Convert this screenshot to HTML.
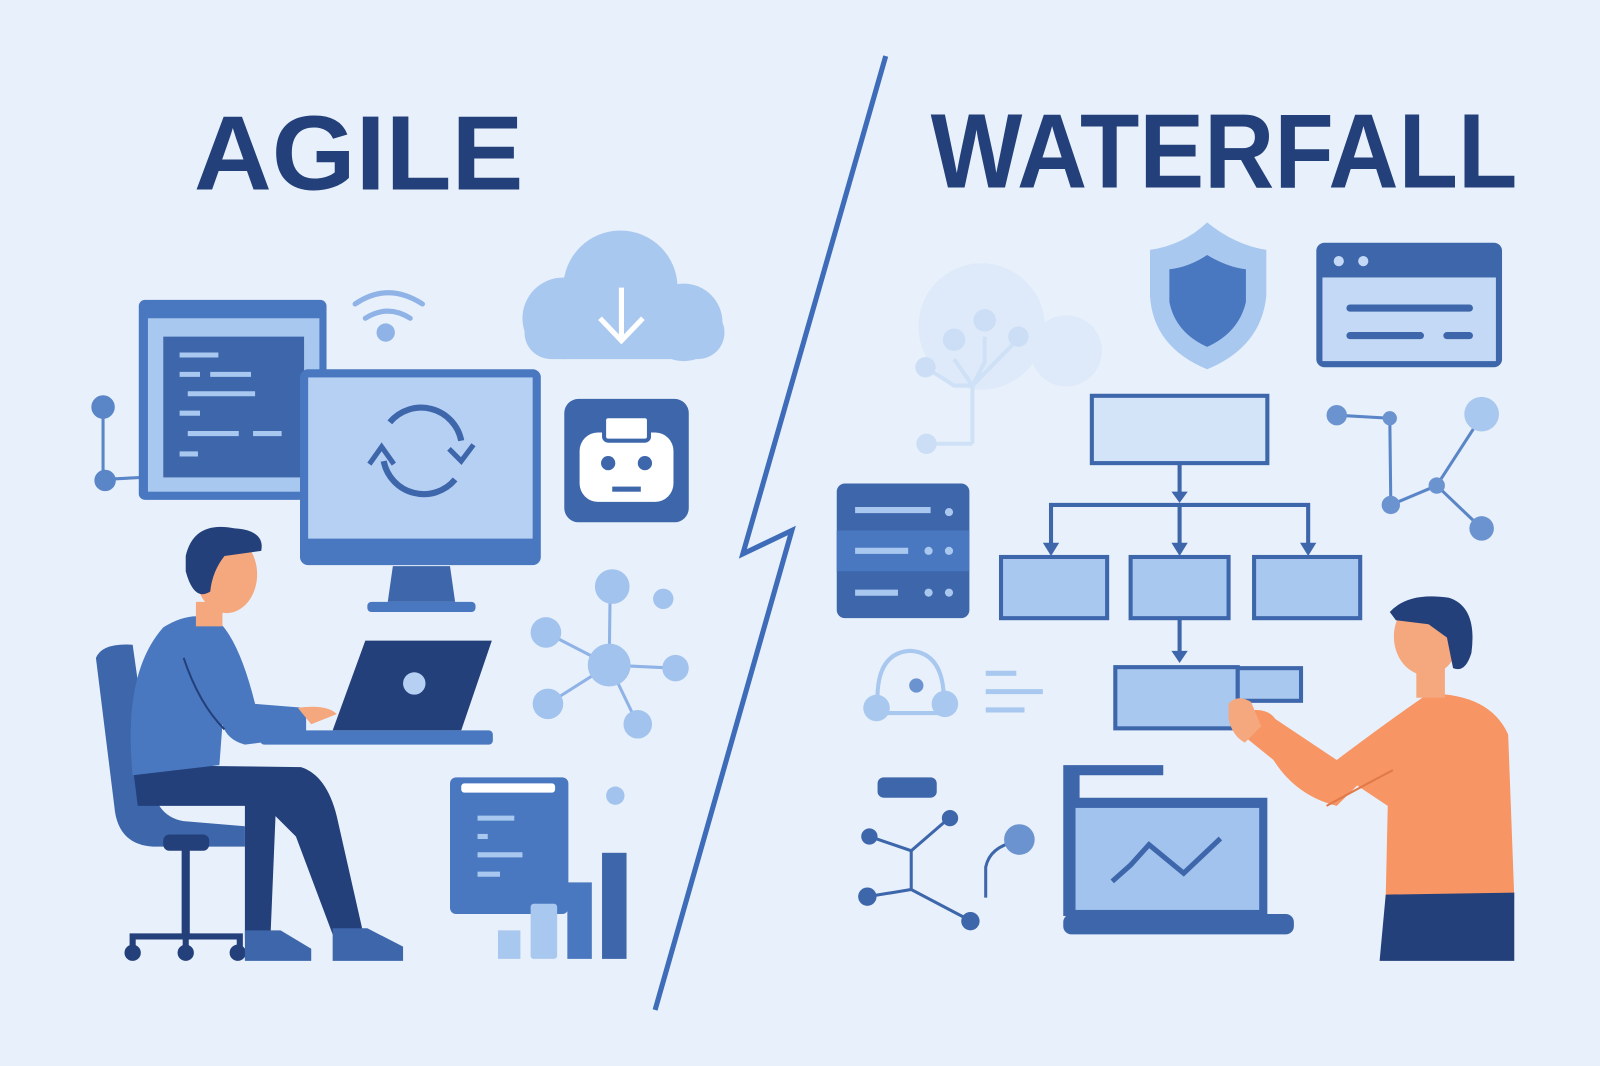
<!DOCTYPE html>
<html><head><meta charset="utf-8"><style>
html,body{margin:0;padding:0;background:#e8f1fb;}
svg{display:block}
</style></head><body>
<svg width="1600" height="1066" viewBox="0 0 1568 1045" preserveAspectRatio="none" xmlns="http://www.w3.org/2000/svg">
<rect width="1568" height="1045" fill="#e8f1fb"/>
<text x="190" y="186" textLength="323" lengthAdjust="spacingAndGlyphs" font-family="Liberation Sans, sans-serif" font-weight="bold" font-size="104" fill="#23407a">AGILE</text>
<text x="912" y="184" textLength="575" lengthAdjust="spacingAndGlyphs" font-family="Liberation Sans, sans-serif" font-weight="bold" font-size="104" fill="#23407a">WATERFALL</text>
<!-- divider -->
<polyline points="868,55 728,543 776,520 642,990" fill="none" stroke="#3e6cb8" stroke-width="5"/>

<!-- LEFT -->
<g stroke="#5a86c8" stroke-width="3" fill="#5a86c8"><line x1="101" y1="400" x2="101" y2="470"/><line x1="101" y1="470" x2="140" y2="468"/><circle cx="101" cy="399" r="10"/><circle cx="103" cy="471" r="9"/></g>
<rect x="136" y="294" width="184" height="196" rx="6" fill="#4a78c0"/>
<rect x="145" y="312" width="168" height="170" fill="#a9c8ef"/>
<rect x="160" y="330" width="138" height="138" fill="#3d66ab"/>
<g stroke="#a9c8ef" stroke-width="5"><line x1="176" y1="348" x2="214" y2="348"/><line x1="176" y1="367" x2="196" y2="367"/><line x1="206" y1="367" x2="246" y2="367"/><line x1="184" y1="386" x2="250" y2="386"/><line x1="176" y1="405" x2="196" y2="405"/><line x1="184" y1="425" x2="234" y2="425"/><line x1="248" y1="425" x2="276" y2="425"/><line x1="176" y1="445" x2="194" y2="445"/></g>
<g fill="none" stroke="#8fb3e6" stroke-width="5" stroke-linecap="round"><path d="M348 298 Q380 276 414 298"/><path d="M358 312 Q380 298 402 312"/></g>
<circle cx="378" cy="326" r="9" fill="#8fb3e6"/>
<rect x="294" y="362" width="236" height="192" rx="8" fill="#4a78c0"/>
<rect x="302" y="370" width="220" height="158" fill="#b5d0f3"/>
<polygon points="385,555 441,555 446,590 380,590" fill="#3d66ab"/>
<rect x="360" y="590" width="106" height="10" rx="4" fill="#4a78c0"/>
<g fill="none" stroke="#3d66ab" stroke-width="6"><path d="M376 452 A40 40 0 0 0 446 470"/><path d="M452 432 A40 40 0 0 0 382 414"/></g>
<g fill="none" stroke="#3d66ab" stroke-width="5"><polyline points="362,455 374,438 386,455"/><polyline points="440,440 452,452 464,436"/></g>
<g fill="#a9c8ef"><circle cx="608" cy="282" r="56"/><circle cx="552" cy="312" r="40"/><circle cx="670" cy="316" r="38"/><rect x="514" y="300" width="196" height="52" rx="26"/></g>
<g stroke="#fff" stroke-width="5" fill="none"><line x1="609" y1="282" x2="609" y2="332"/><polyline points="588,312 609,334 630,312"/></g>
<rect x="553" y="391" width="122" height="121" rx="14" fill="#3d66ab"/>
<rect x="568" y="424" width="92" height="68" rx="18" fill="#fff"/>
<rect x="592" y="408" width="44" height="24" rx="4" fill="#fff" stroke="#3d66ab" stroke-width="4"/>
<circle cx="596" cy="454" r="7" fill="#3d66ab"/><circle cx="632" cy="454" r="7" fill="#3d66ab"/>
<rect x="600" y="477" width="28" height="5" fill="#3d66ab"/>
<g stroke="#8fb3e6" stroke-width="3"><line x1="597" y1="652" x2="535" y2="620"/><line x1="597" y1="652" x2="598" y2="575"/><line x1="597" y1="652" x2="662" y2="655"/><line x1="597" y1="652" x2="537" y2="690"/><line x1="597" y1="652" x2="625" y2="710"/></g>
<g fill="#a2c3ee"><circle cx="597" cy="652" r="21"/><circle cx="600" cy="575" r="17"/><circle cx="535" cy="620" r="15"/><circle cx="650" cy="587" r="10"/><circle cx="662" cy="655" r="13"/><circle cx="537" cy="690" r="15"/><circle cx="625" cy="710" r="14"/><circle cx="603" cy="780" r="9"/></g>
<rect x="441" y="762" width="116" height="134" rx="6" fill="#4a78c0"/>
<rect x="452" y="768" width="92" height="9" rx="3" fill="#fff"/>
<g stroke="#a9c8ef" stroke-width="5"><line x1="468" y1="802" x2="504" y2="802"/><line x1="468" y1="820" x2="478" y2="820"/><line x1="468" y1="838" x2="512" y2="838"/><line x1="468" y1="857" x2="490" y2="857"/></g>
<rect x="488" y="912" width="22" height="28" fill="#a9c8ef"/>
<rect x="520" y="886" width="26" height="54" rx="3" fill="#a9c8ef"/>
<rect x="556" y="865" width="24" height="75" fill="#4a78c0"/>
<rect x="590" y="836" width="24" height="104" fill="#3d66ab"/>
<!-- person agile -->
<path d="M94 645 Q100 630 130 632 L148 760 Q150 800 180 805 L240 810 L240 830 L150 830 Q115 828 112 790 Z" fill="#3d66ab"/>
<rect x="178" y="830" width="8" height="90" fill="#23407a"/>
<g stroke="#23407a" stroke-width="6" fill="none"><path d="M130 930 L130 918 L235 918 L235 930"/><line x1="182" y1="918" x2="182" y2="932"/></g>
<circle cx="130" cy="934" r="8" fill="#23407a"/><circle cx="182" cy="934" r="8" fill="#23407a"/><circle cx="233" cy="934" r="8" fill="#23407a"/>
<rect x="160" y="818" width="45" height="16" rx="6" fill="#23407a"/>
<path d="M130 750 L295 752 Q320 760 330 800 L356 915 L326 916 L290 820 L270 800 L265 920 L240 920 L240 790 L135 790 Z" fill="#23407a"/>
<path d="M240 912 L275 912 L305 930 L305 942 L240 942 Z" fill="#3d66ab"/>
<path d="M326 910 L360 910 L395 928 L395 942 L326 942 Z" fill="#3d66ab"/>
<path d="M130 760 Q120 660 160 615 Q190 596 215 610 Q235 630 250 690 L300 694 L300 722 L240 730 Q222 725 218 710 L215 750 Z" fill="#4a78c0"/>
<path d="M180 645 Q195 690 220 715" stroke="#23407a" stroke-width="2" fill="none"/>
<rect x="192" y="590" width="26" height="24" fill="#f5a77d"/>
<ellipse cx="222" cy="563" rx="30" ry="38" fill="#f5a77d"/>
<path d="M182 545 Q190 510 230 518 Q260 520 256 540 L220 545 Q208 560 206 580 Q190 590 182 560 Z" fill="#23407a"/>
<path d="M292 694 Q320 690 330 700 L305 710 Z" fill="#f5a77d"/>
<polygon points="358,628 482,628 452,716 326,716" fill="#23407a"/>
<circle cx="406" cy="670" r="11" fill="#b5d0f3"/>
<rect x="255" y="716" width="228" height="14" rx="4" fill="#4a78c0"/>

<!-- RIGHT -->
<g opacity="0.45"><circle cx="962" cy="320" r="62" fill="#d3e3f8"/><circle cx="1045" cy="344" r="35" fill="#d3e3f8"/>
<g stroke="#b3cff2" stroke-width="4" fill="none"><path d="M953 435 L953 378 L935 352 M953 378 L965 355 L965 330 M953 378 L998 332 M953 378 L935 378 L907 360 M953 435 L908 435"/></g>
<g fill="#a9c8ef"><circle cx="935" cy="333" r="11"/><circle cx="965" cy="314" r="11"/><circle cx="998" cy="330" r="10"/><circle cx="907" cy="360" r="10"/><circle cx="908" cy="435" r="10"/></g></g>
<path d="M1183 218 Q1210 240 1241 245 L1241 290 Q1236 340 1183 362 Q1130 340 1127 290 L1127 245 Q1160 240 1183 218 Z" fill="#a9c8ef"/>
<path d="M1183 250 Q1203 262 1221 264 L1221 296 Q1214 326 1183 340 Q1152 326 1146 296 L1146 264 Q1165 262 1183 250 Z" fill="#4a78c0"/>
<rect x="1290" y="238" width="182" height="122" rx="8" fill="#3d66ab"/>
<rect x="1296" y="272" width="170" height="82" fill="#c3d9f5"/>
<circle cx="1312" cy="256" r="5" fill="#c3d9f5"/><circle cx="1336" cy="256" r="5" fill="#c3d9f5"/>
<g stroke="#3d66ab" stroke-width="7" stroke-linecap="round"><line x1="1323" y1="302" x2="1440" y2="302"/><line x1="1323" y1="329" x2="1392" y2="329"/><line x1="1418" y1="329" x2="1440" y2="329"/></g>
<g stroke="#5a86c8" stroke-width="3"><line x1="1310" y1="407" x2="1362" y2="410"/><line x1="1362" y1="410" x2="1363" y2="495"/><line x1="1363" y1="495" x2="1408" y2="476"/><line x1="1408" y1="476" x2="1452" y2="408"/><line x1="1408" y1="476" x2="1452" y2="518"/></g>
<g fill="#6b93d0"><circle cx="1310" cy="407" r="10"/><circle cx="1362" cy="410" r="7"/><circle cx="1363" cy="495" r="9"/><circle cx="1408" cy="476" r="8"/><circle cx="1452" cy="518" r="12"/></g>
<circle cx="1452" cy="406" r="17" fill="#a9c8ef"/>
<rect x="1070" y="388" width="172" height="66" fill="#d3e3f8" stroke="#3d66ab" stroke-width="4"/>
<g stroke="#3d66ab" stroke-width="4" fill="none"><line x1="1156" y1="454" x2="1156" y2="488"/><polyline points="1030,540 1030,495 1282,495 1282,540"/><line x1="1156" y1="495" x2="1156" y2="540"/><line x1="1156" y1="606" x2="1156" y2="645"/></g>
<g fill="#3d66ab"><polygon points="1148,482 1164,482 1156,493"/><polygon points="1022,532 1038,532 1030,545"/><polygon points="1148,532 1164,532 1156,545"/><polygon points="1274,532 1290,532 1282,545"/><polygon points="1148,638 1164,638 1156,650"/></g>
<g fill="#a9c8ef" stroke="#3d66ab" stroke-width="4"><rect x="981" y="546" width="104" height="60"/><rect x="1108" y="546" width="96" height="60"/><rect x="1229" y="546" width="104" height="60"/><rect x="1093" y="654" width="120" height="60"/><rect x="1213" y="655" width="62" height="32"/></g>
<rect x="820" y="474" width="130" height="132" rx="8" fill="#3d66ab"/>
<rect x="820" y="520" width="130" height="40" fill="#4a78c0"/>
<g stroke="#a9c8ef" stroke-width="6"><line x1="838" y1="500" x2="912" y2="500"/><line x1="838" y1="540" x2="890" y2="540"/><line x1="838" y1="581" x2="880" y2="581"/></g>
<g fill="#a9c8ef"><circle cx="930" cy="502" r="4"/><circle cx="910" cy="540" r="4"/><circle cx="930" cy="540" r="4"/><circle cx="910" cy="581" r="4"/><circle cx="930" cy="581" r="4"/></g>
<g stroke="#a9c8ef" stroke-width="4" fill="none"><path d="M860 690 Q858 640 892 638 Q926 640 925 690"/><line x1="860" y1="699" x2="926" y2="699"/></g>
<g fill="#a9c8ef"><circle cx="859" cy="694" r="13"/><circle cx="926" cy="690" r="13"/></g><circle cx="898" cy="672" r="7" fill="#6b93d0"/>
<g stroke="#a9c8ef" stroke-width="5"><line x1="966" y1="660" x2="996" y2="660"/><line x1="966" y1="678" x2="1022" y2="678"/><line x1="966" y1="696" x2="1004" y2="696"/></g>
<rect x="860" y="762" width="58" height="20" rx="6" fill="#3d66ab"/>
<g stroke="#3d66ab" stroke-width="3" fill="none"><polyline points="852,820 893,834 930,802"/><line x1="893" y1="834" x2="893" y2="872"/><polyline points="850,879 893,872 950,902"/><path d="M966 880 L966 850 Q970 830 996 825"/></g>
<g fill="#3d66ab"><circle cx="852" cy="820" r="8"/><circle cx="931" cy="802" r="8"/><circle cx="850" cy="879" r="9"/><circle cx="951" cy="903" r="9"/></g>
<circle cx="999" cy="823" r="15" fill="#6b93d0"/>
<path d="M1042 750 L1140 750 L1140 760 L1058 760 L1058 782 L1242 782 L1242 898 L1042 898 Z" fill="#3d66ab"/>
<rect x="1054" y="792" width="180" height="100" fill="#a2c3ee"/>
<rect x="1042" y="896" width="226" height="20" rx="8" fill="#3d66ab"/>
<polyline points="1090,864 1108,848 1126,828 1160,856 1196,822" fill="none" stroke="#3d66ab" stroke-width="5"/>
<path d="M1210 700 Q1240 690 1250 705 L1310 745 Q1370 700 1400 680 Q1460 680 1478 720 L1484 880 L1358 880 L1360 790 L1330 770 L1310 790 Q1270 780 1248 745 L1222 724 Z" fill="#f79564"/>
<path d="M1300 790 Q1340 768 1365 755" stroke="#e07a48" stroke-width="2" fill="none"/>
<path d="M1358 877 L1484 875 L1484 942 L1352 942 Z" fill="#23407a"/>
<path d="M1204 690 Q1212 680 1226 688 L1236 712 L1220 728 Q1208 722 1204 705 Z" fill="#f5a77d"/>
<rect x="1388" y="644" width="28" height="40" fill="#f5a77d"/>
<ellipse cx="1398" cy="624" rx="32" ry="38" fill="#f5a77d"/>
<path d="M1362 600 Q1380 580 1420 586 Q1448 595 1442 640 Q1436 660 1424 655 L1418 625 L1400 612 L1368 608 Z" fill="#23407a"/>
</svg>
</body></html>
